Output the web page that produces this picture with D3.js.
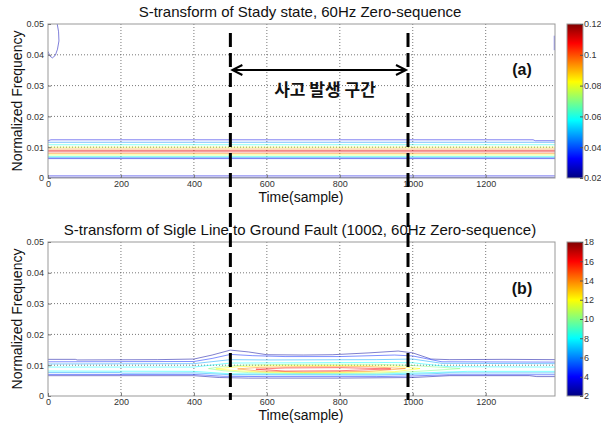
<!DOCTYPE html>
<html>
<head>
<meta charset="utf-8">
<script src="https://cdn.jsdelivr.net/npm/d3@7"></script>
<style>
body { margin: 0; background: #fff; }
svg { display: block; font-family: "Liberation Sans", Arial, sans-serif; }
</style>
</head>
<body>
<svg></svg>
<script>
// tick labels
var xTicks = [0, 200, 400, 600, 800, 1000, 1200];
var yTicks = [0, 0.01, 0.02, 0.03, 0.04, 0.05];
var cbarTicksA = [0.02, 0.04, 0.06, 0.08, 0.1, 0.12];
var cbarTicksB = [2, 4, 6, 8, 10, 12, 14, 16, 18];
var faultSpan = [500, 987]; // samples

// contour lines: [time, normalized frequency]
var contoursA = [
    {level: 0.022, pts: [[0, 0.0002], [1390, 0.0002]]},
    {level: 0.03, pts: [[0, 0.0007], [1390, 0.0007]]},
    {level: 0.025, pts: [[0, 0.0411], [5, 0.0396], [12, 0.0390], [20, 0.0398], [26, 0.0418], [30, 0.0445], [29, 0.0475], [25, 0.0502]]},
    {level: 0.03, pts: [[1388, 0.0462], [1388, 0.0415]]},
    {level: 0.03, pts: [[0, 0.0121], [8, 0.0124], [1330, 0.0124], [1336, 0.0121], [1390, 0.0121]]},
    {level: 0.045, pts: [[0, 0.0116], [1390, 0.0116]]},
    {level: 0.06, pts: [[0, 0.0108], [1390, 0.0108]]},
    {level: 0.08, pts: [[0, 0.0100], [1390, 0.0100]]},
    {level: 0.095, pts: [[0, 0.0094], [1390, 0.0094]]},
    {level: 0.11, pts: [[0, 0.0089], [1390, 0.0089]]},
    {level: 0.11, pts: [[0, 0.0085], [1390, 0.0085]]},
    {level: 0.095, pts: [[0, 0.0080], [1390, 0.0080]]},
    {level: 0.08, pts: [[0, 0.0075], [1390, 0.0075]]},
    {level: 0.06, pts: [[0, 0.0070], [1390, 0.0070]]},
    {level: 0.045, pts: [[0, 0.0066], [1390, 0.0066]]},
    {level: 0.03, pts: [[0, 0.0063], [1390, 0.0063]]}
];

// contour lines
var contoursB = [
    {level: 2.5, pts: [[0, 0.0119], [75, 0.0119], [80, 0.0117], [300, 0.0118], [400, 0.0120], [450, 0.0133], [500, 0.0149], [550, 0.0143], [600, 0.0134], [700, 0.0133], [780, 0.0134], [880, 0.0140], [960, 0.0146], [1000, 0.0140], [1050, 0.0120], [1100, 0.0118], [1250, 0.0119], [1390, 0.0118]]},
    {level: 4.5, pts: [[0, 0.0111], [400, 0.0112], [450, 0.0122], [500, 0.0135], [560, 0.0131], [650, 0.0128], [800, 0.0128], [950, 0.0133], [1000, 0.0130], [1080, 0.0111], [1390, 0.0110]]},
    {level: 6.5, pts: [[0, 0.0104], [400, 0.0105], [500, 0.0118], [600, 0.0117], [900, 0.0118], [1000, 0.0120], [1080, 0.0106], [1390, 0.0105]]},
    {level: 8, pts: [[0, 0.0094], [400, 0.0094], [500, 0.0107], [900, 0.0109], [1000, 0.0108], [1100, 0.0095], [1390, 0.0094]]},
    {level: 8, pts: [[0, 0.0081], [400, 0.0080], [500, 0.0072], [900, 0.0071], [1050, 0.0076], [1150, 0.0080], [1390, 0.0080]]},
    {level: 6.5, pts: [[0, 0.0076], [200, 0.0076], [205, 0.0074], [400, 0.0075], [500, 0.0069], [900, 0.0068], [1050, 0.0072], [1100, 0.0075], [1390, 0.0075]]},
    {level: 4.5, pts: [[0, 0.0070], [400, 0.0070], [480, 0.0064], [600, 0.0063], [900, 0.0063], [1000, 0.0065], [1100, 0.0069], [1390, 0.0069]]},
    {level: 2.5, pts: [[0, 0.0066], [400, 0.0066], [470, 0.0060], [550, 0.0058], [800, 0.0058], [1000, 0.0060], [1100, 0.0066], [1320, 0.0066], [1340, 0.0063], [1390, 0.0063]]},
    {level: 10, pts: [[440, 0.0089], [480, 0.0096], [550, 0.0101], [700, 0.0103], [900, 0.0103], [1000, 0.0099], [1080, 0.0093], [1130, 0.0089], [1080, 0.0085], [1000, 0.0079], [900, 0.0074], [700, 0.0073], [550, 0.0076], [480, 0.0082], [440, 0.0089]]},
    {level: 12, pts: [[460, 0.0088], [520, 0.0095], [600, 0.0098], [800, 0.0099], [950, 0.0097], [1020, 0.0089], [950, 0.0079], [800, 0.0076], [600, 0.0077], [520, 0.0082], [460, 0.0088]]},
    {level: 14, pts: [[520, 0.0088], [580, 0.0093], [700, 0.0095], [880, 0.0095], [980, 0.0089], [880, 0.0080], [700, 0.0078], [580, 0.0081], [520, 0.0088]]},
    {level: 16, pts: [[570, 0.0087], [650, 0.0091], [800, 0.0092], [940, 0.0088], [800, 0.0082], [650, 0.0081], [570, 0.0087]]}
];

var svg = d3.select("svg").attr("width", 601).attr("height", 423);

// MATLAB jet
var jet = d3.scaleLinear()
    .domain([0, 0.125, 0.375, 0.625, 0.875, 1])
    .range(["#000080", "#0000ff", "#00ffff", "#ffff00", "#ff0000", "#800000"]);

var defs = svg.append("defs");
var grad = defs.append("linearGradient").attr("id", "jetGrad")
    .attr("x1", 0).attr("y1", 1).attr("x2", 0).attr("y2", 0);
d3.range(0, 1.0001, 0.125).forEach(function(t){
    grad.append("stop").attr("offset", t).attr("stop-color", jet(t));
});

var x = d3.scaleLinear().domain([0, 1390]).range([48, 555]);

function drawPanel(top, contours, cDomain, cTicks, title, tag, tagY, id){
    var y = d3.scaleLinear().domain([0, 0.05]).range([top + 154, top]);
    var g = svg.append("g");

    defs.append("clipPath").attr("id", id)
        .append("rect").attr("x", 48).attr("y", top).attr("width", 507).attr("height", 154);

    // dotted grid
    g.selectAll(".vg").data(xTicks.slice(1)).enter().append("line")
        .attr("x1", function(d){ return x(d); }).attr("x2", function(d){ return x(d); })
        .attr("y1", top).attr("y2", top + 154)
        .attr("stroke", "#555").attr("stroke-width", 0.8).attr("stroke-dasharray", "1,2");
    g.selectAll(".hg").data(yTicks.slice(1, -1)).enter().append("line")
        .attr("x1", 48).attr("x2", 555)
        .attr("y1", function(d){ return y(d); }).attr("y2", function(d){ return y(d); })
        .attr("stroke", "#555").attr("stroke-width", 0.8).attr("stroke-dasharray", "1,2");

    // contour lines
    var line = d3.line().x(function(d){ return x(d[0]); }).y(function(d){ return y(d[1]); });
    g.append("g").attr("clip-path", "url(#" + id + ")")
        .selectAll("path").data(contours).enter().append("path")
        .attr("d", function(d){ return line(d.pts); })
        .attr("fill", "none")
        .attr("stroke", function(d){ return jet((d.level - cDomain[0]) / (cDomain[1] - cDomain[0])); })
        .attr("stroke-width", 1)
        .attr("stroke-opacity", 0.5);

    // box
    g.append("rect").attr("x", 48).attr("y", top).attr("width", 507).attr("height", 154)
        .attr("fill", "none").attr("stroke", "#999").attr("stroke-width", 1);

    var xAxis = g.append("g").attr("transform", "translate(0," + (top + 154) + ")")
        .call(d3.axisBottom(x).tickValues(xTicks).tickSize(-3).tickPadding(3).tickFormat(String));
    var yAxis = g.append("g").attr("transform", "translate(48,0)")
        .call(d3.axisLeft(y).tickValues(yTicks).tickSize(-3).tickPadding(4).tickFormat(String));
    [xAxis, yAxis].forEach(function(a){
        a.select(".domain").remove();
        a.selectAll("line").attr("stroke", "#777");
        a.selectAll("text").attr("font-size", 9).attr("fill", "#333")
            .attr("font-family", "\"Liberation Sans\", Arial, sans-serif");
    });

    // colorbar
    var cy = d3.scaleLinear().domain(cDomain).range([top + 154, top]);
    g.append("rect").attr("x", 567).attr("y", top).attr("width", 16).attr("height", 154)
        .attr("fill", "url(#jetGrad)").attr("stroke", "#999").attr("stroke-width", 1);
    var cAxis = g.append("g").attr("transform", "translate(583,0)")
        .call(d3.axisRight(cy).tickValues(cTicks).tickSize(-3).tickPadding(1).tickFormat(String));
    cAxis.select(".domain").remove();
    cAxis.selectAll("line").attr("stroke", "#555");
    cAxis.selectAll("text").attr("font-size", 9).attr("fill", "#333")
        .attr("font-family", "\"Liberation Sans\", Arial, sans-serif");

    // texts
    g.append("text").attr("x", 300).attr("y", top - 7).attr("text-anchor", "middle")
        .attr("font-size", 15).attr("fill", "#111").text(title);
    g.append("text").attr("transform", "translate(22," + (top + 77) + ") rotate(-90)")
        .attr("text-anchor", "middle").attr("font-size", 14).attr("fill", "#111")
        .text("Normalized Frequency");
    g.append("text").attr("x", 301).attr("y", top + 178).attr("text-anchor", "middle")
        .attr("font-size", 14).attr("fill", "#111").text("Time(sample)");
    g.append("text").attr("x", 522).attr("y", tagY).attr("text-anchor", "middle")
        .attr("font-size", 16).attr("font-weight", "bold").attr("fill", "#111").text(tag);
}

drawPanel(24, contoursA, [0.02, 0.12], cbarTicksA,
    "S-transform of Stady state, 60Hz Zero-sequence", "(a)", 75, "clipA");
drawPanel(242, contoursB, [2, 18], cbarTicksB,
    "S-transform of Sigle Line to Ground Fault (100\u03A9, 60Hz Zero-sequence)", "(b)", 294, "clipB");

// fault interval markers
svg.selectAll(".fault").data(faultSpan).enter().append("line")
    .attr("x1", function(d){ return x(d); }).attr("x2", function(d){ return x(d); })
    .attr("y1", 33).attr("y2", 400)
    .attr("stroke", "#000").attr("stroke-width", 3).attr("stroke-dasharray", "14,6");

var ax0 = x(faultSpan[0]) + 2, ax1 = x(faultSpan[1]) - 2, ay = 70;
svg.append("line").attr("x1", ax0).attr("x2", ax1).attr("y1", ay).attr("y2", ay)
    .attr("stroke", "#000").attr("stroke-width", 2);
svg.append("path")
    .attr("d", "M" + (ax0 + 10) + "," + (ay - 5) + "L" + ax0 + "," + ay + "L" + (ax0 + 10) + "," + (ay + 5) +
               "M" + (ax1 - 10) + "," + (ay - 5) + "L" + ax1 + "," + ay + "L" + (ax1 - 10) + "," + (ay + 5))
    .attr("fill", "none").attr("stroke", "#000").attr("stroke-width", 2);
svg.append("text").attr("x", 325).attr("y", 96).attr("text-anchor", "middle")
    .attr("font-family", "\"Noto Sans CJK KR\", sans-serif")
    .attr("font-size", 17).attr("font-weight", "bold").attr("fill", "#111")
    .text("사고 발생 구간");
</script>
</body>
</html>
